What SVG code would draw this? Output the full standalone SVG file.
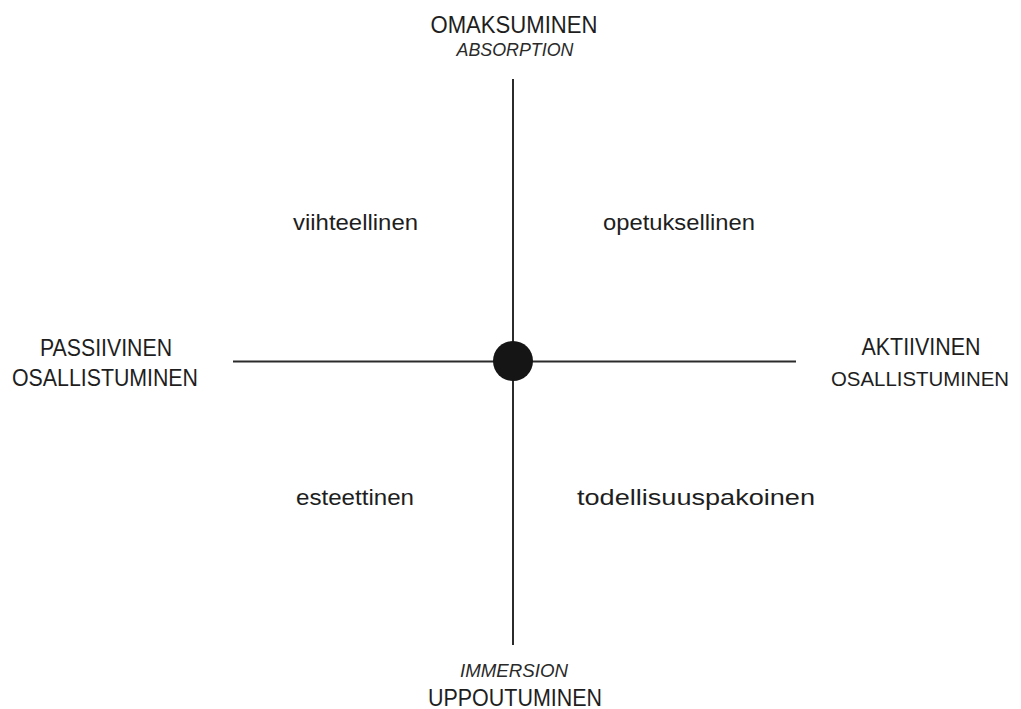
<svg xmlns="http://www.w3.org/2000/svg" width="1021" height="709" viewBox="0 0 1021 709">
<style>
.cap{font-family:"Liberation Sans",Arial,sans-serif;font-size:24px;fill:#1e1e1e;text-anchor:middle}
.it{font-family:"Liberation Sans",Arial,sans-serif;font-size:18px;font-style:italic;fill:#2a2a2a;text-anchor:middle}
.lab{font-family:"Liberation Sans",Arial,sans-serif;font-size:22px;fill:#1e1e1e}
.ax{stroke:#2b2b2b;stroke-width:2;fill:none}
</style>
<rect width="1021" height="709" fill="#ffffff"/>
<g id="connectors">
<line class="ax" x1="513" y1="79" x2="513" y2="645"/>
<line class="ax" x1="233" y1="361.5" x2="796" y2="361.5"/>
</g>
<g id="center"><circle cx="513" cy="361" r="20" fill="#151515"/></g>
<g id="top">
<text class="cap" x="514" y="33" textLength="167" lengthAdjust="spacingAndGlyphs">OMAKSUMINEN</text>
<text class="it" x="515" y="56" textLength="117" lengthAdjust="spacingAndGlyphs">ABSORPTION</text>
</g>
<g id="bottom">
<text class="it" x="514" y="677" textLength="108" lengthAdjust="spacingAndGlyphs">IMMERSION</text>
<text class="cap" x="515" y="706" textLength="174" lengthAdjust="spacingAndGlyphs">UPPOUTUMINEN</text>
</g>
<g id="left">
<text class="cap" x="106" y="356" textLength="132" lengthAdjust="spacingAndGlyphs">PASSIIVINEN</text>
<text class="cap" x="105" y="386" textLength="186" lengthAdjust="spacingAndGlyphs">OSALLISTUMINEN</text>
</g>
<g id="right">
<text class="cap" x="921" y="355" textLength="119" lengthAdjust="spacingAndGlyphs">AKTIIVINEN</text>
<text class="cap" x="920" y="386" style="font-size:21px" textLength="178" lengthAdjust="spacingAndGlyphs">OSALLISTUMINEN</text>
</g>
<g id="q1"><text class="lab" x="293" y="230" textLength="125" lengthAdjust="spacingAndGlyphs">viihteellinen</text></g>
<g id="q2"><text class="lab" x="603" y="230" textLength="152" lengthAdjust="spacingAndGlyphs">opetuksellinen</text></g>
<g id="q3"><text class="lab" x="296" y="505" textLength="118" lengthAdjust="spacingAndGlyphs">esteettinen</text></g>
<g id="q4"><text class="lab" x="577" y="505" textLength="238" lengthAdjust="spacingAndGlyphs">todellisuuspakoinen</text></g>
</svg>
